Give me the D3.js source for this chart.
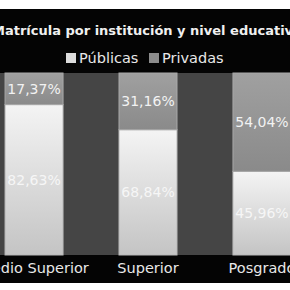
<!DOCTYPE html>
<html>
<head>
<meta charset="utf-8">
<script src="https://cdn.jsdelivr.net/npm/d3@7.9.0/dist/d3.min.js"></script>
<style>
  html, body { margin: 0; padding: 0; background: #fff; }
  svg { display: block; font-family: 'DejaVu Sans', sans-serif; }
</style>
</head>
<body>
<svg id="chart" width="290" height="290"></svg>
<script>
const categories = ['Medio Superior', 'Superior', 'Posgrado'];
const publicas = [82.63, 68.84, 45.96];
const privadas = [17.37, 31.16, 54.04];
const seriesNames = ['Públicas', 'Privadas'];

const svg = d3.select('#chart');
const fmt = d3.formatLocale({ decimal: ',', thousands: '.', grouping: [3], currency: ['', ''] }).format('.2f');

// black chart frame
svg.append('rect').attr('x', 0).attr('y', 9).attr('width', 290).attr('height', 274).attr('fill', '#040404');

const defs = svg.append('defs');
const gPub = defs.append('linearGradient').attr('id', 'gPub').attr('x1', 0).attr('y1', 0).attr('x2', 0).attr('y2', 1);
gPub.append('stop').attr('offset', '0%').attr('stop-color', '#f4f4f4');
gPub.append('stop').attr('offset', '100%').attr('stop-color', '#c4c4c4');
const gPriv = defs.append('linearGradient').attr('id', 'gPriv').attr('x1', 0).attr('y1', 0).attr('x2', 0).attr('y2', 1);
gPriv.append('stop').attr('offset', '0%').attr('stop-color', '#a0a0a0');
gPriv.append('stop').attr('offset', '100%').attr('stop-color', '#8a8a8a');

const x = d3.scaleBand().domain(categories).range([-23, 319]).paddingInner(0.491).paddingOuter(0.246);
const y = d3.scaleLinear().domain([0, 100]).range([255, 73]);

// plot area
svg.append('rect').attr('x', -23).attr('y', y(100)).attr('width', 342).attr('height', y(0) - y(100)).attr('fill', '#454545');

const rows = categories.map((c, i) => ({ cat: c, pub: publicas[i], priv: privadas[i] }));

const g = svg.append('g');
rows.forEach((d) => {
  const x0 = x(d.cat);
  const w = x.bandwidth();
  g.append('rect')
    .attr('x', x0).attr('y', y(d.pub)).attr('width', w).attr('height', y(0) - y(d.pub))
    .attr('fill', 'url(#gPub)').attr('stroke', '#b8b8b8').attr('stroke-width', 1);
  g.append('rect')
    .attr('x', x0).attr('y', y(100)).attr('width', w).attr('height', y(d.pub) - y(100))
    .attr('fill', 'url(#gPriv)').attr('stroke', '#a8a8a8').attr('stroke-width', 1);

  g.append('text')
    .attr('x', x0 + w / 2).attr('y', (y(100) + y(d.pub)) / 2)
    .attr('text-anchor', 'middle').attr('dominant-baseline', 'central')
    .attr('font-size', 14).attr('fill', '#f2f2f2')
    .text(fmt(d.priv) + '%');
  g.append('text')
    .attr('x', x0 + w / 2).attr('y', (y(d.pub) + y(0)) / 2)
    .attr('text-anchor', 'middle').attr('dominant-baseline', 'central')
    .attr('font-size', 14).attr('fill', '#f6f6f6')
    .text(fmt(d.pub) + '%');
});

// category axis
const xAxis = svg.append('g').attr('transform', `translate(0,${y(0)})`)
  .call(d3.axisBottom(x).tickSize(0).tickPadding(8));
xAxis.select('.domain').remove();
xAxis.selectAll('text').attr('font-size', 14.5).attr('fill', '#e8e8e8').attr('font-family', 'DejaVu Sans');

// title
svg.append('text')
  .attr('x', 147).attr('y', 35)
  .attr('text-anchor', 'middle')
  .attr('font-size', 13).attr('font-weight', 'bold').attr('fill', '#f0f0f0')
  .text('Matrícula por institución y nivel educativo');

// legend
const legendColors = ['#dcdcdc', '#8c8c8c'];
const legendX = [66, 149];
seriesNames.forEach((name, i) => {
  svg.append('rect').attr('x', legendX[i]).attr('y', 53).attr('width', 10).attr('height', 10).attr('fill', legendColors[i]);
  svg.append('text')
    .attr('x', legendX[i] + 13).attr('y', 58)
    .attr('dominant-baseline', 'central')
    .attr('font-size', 14.5).attr('fill', '#e8e8e8')
    .text(name);
});
</script>
</body>
</html>
